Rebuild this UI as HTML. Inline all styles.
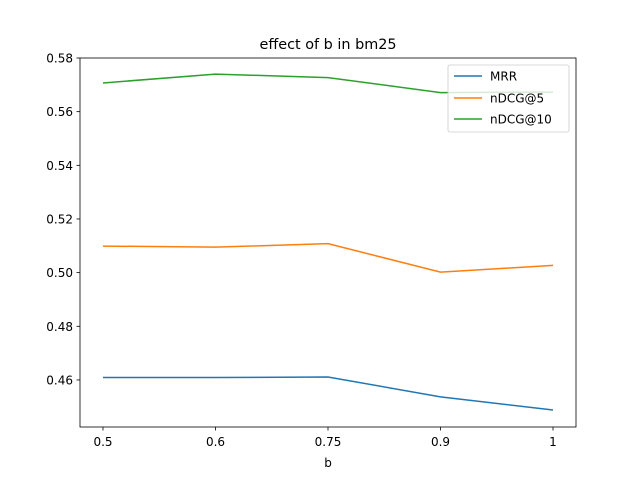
<!DOCTYPE html>
<html><head><meta charset="utf-8"><style>
body{margin:0;background:#fff}
svg{font-family:"DejaVu Sans","Liberation Sans",sans-serif}
</style></head><body>
<svg id="chart" width="640" height="480">
<rect width="640" height="480" fill="#fff"/>
<text x="328" y="49" font-size="14.4" text-anchor="middle">effect of b in bm25</text>
<g id="grid"></g>
<g id="series"></g>
<rect x="80" y="58" width="496" height="369" fill="none" stroke="#000" stroke-width="0.8"/>
<text x="328" y="467" font-size="12" text-anchor="middle">b</text>
<g>
<rect x="448" y="65" width="121" height="67" rx="2" fill="#fff" fill-opacity="0.8" stroke="#ccc" stroke-width="0.8"/>
<line x1="454" y1="76" x2="482" y2="76" stroke="#1f77b4" stroke-width="1.5"/>
<text x="490" y="80.5" font-size="12">MRR</text>
<line x1="454" y1="98" x2="482" y2="98" stroke="#ff7f0e" stroke-width="1.5"/>
<text x="490" y="102.5" font-size="12">nDCG@5</text>
<line x1="454" y1="119" x2="482" y2="119" stroke="#2ca02c" stroke-width="1.5"/>
<text x="490" y="123.5" font-size="12">nDCG@10</text>
</g>
</svg>
<script>
const categories=["0.5","0.6","0.75","0.9","1"];
const mrr=[0.4609,0.4609,0.4611,0.4537,0.4488];
const ndcg5=[0.5099,0.5095,0.5108,0.5002,0.5027];
const ndcg10=[0.5707,0.5740,0.5727,0.5671,0.5673];
const yTicks=[0.46,0.48,0.50,0.52,0.54,0.56,0.58];
const NS="http://www.w3.org/2000/svg";
function xs(i){return 103+i*112.5;}
function ys(v){return 58+(0.58-v)*2683;}
const grid=document.getElementById('grid');
yTicks.forEach(t=>{
  const y=ys(t);
  const l=document.createElementNS(NS,'line');
  l.setAttribute('x1',76.5);l.setAttribute('x2',80);l.setAttribute('y1',y);l.setAttribute('y2',y);l.setAttribute('stroke','#000');l.setAttribute('stroke-width','0.8');
  
  
  grid.appendChild(l);
  const tx=document.createElementNS(NS,'text');
  tx.setAttribute('x',73);tx.setAttribute('y',y+4.5);tx.setAttribute('font-size','12');tx.setAttribute('text-anchor','end');
  tx.textContent=t.toFixed(2);
  
  
  grid.appendChild(tx);
});
categories.forEach((c,i)=>{
  const x=xs(i);
  const l=document.createElementNS(NS,'line');
  l.setAttribute('x1',x);l.setAttribute('x2',x);l.setAttribute('y1',427);l.setAttribute('y2',430.5);l.setAttribute('stroke','#000');l.setAttribute('stroke-width','0.8');
  
  
  grid.appendChild(l);
  const tx=document.createElementNS(NS,'text');
  tx.setAttribute('x',x);tx.setAttribute('y',446);tx.setAttribute('font-size','12');tx.setAttribute('text-anchor','middle');
  tx.textContent=c;
  
  
  grid.appendChild(tx);
});
const ser=document.getElementById('series');
[[mrr,'#1f77b4','line-mrr'],[ndcg5,'#ff7f0e','line-ndcg5'],[ndcg10,'#2ca02c','line-ndcg10']].forEach(([d,col,name])=>{
  const p=document.createElementNS(NS,'polyline');
  p.setAttribute('points',d.map((v,i)=>xs(i)+','+ys(v)).join(' '));
  p.setAttribute('fill','none');p.setAttribute('stroke',col);p.setAttribute('stroke-width','1.5');
  
  
  ser.appendChild(p);
});
</script>
</body></html>
